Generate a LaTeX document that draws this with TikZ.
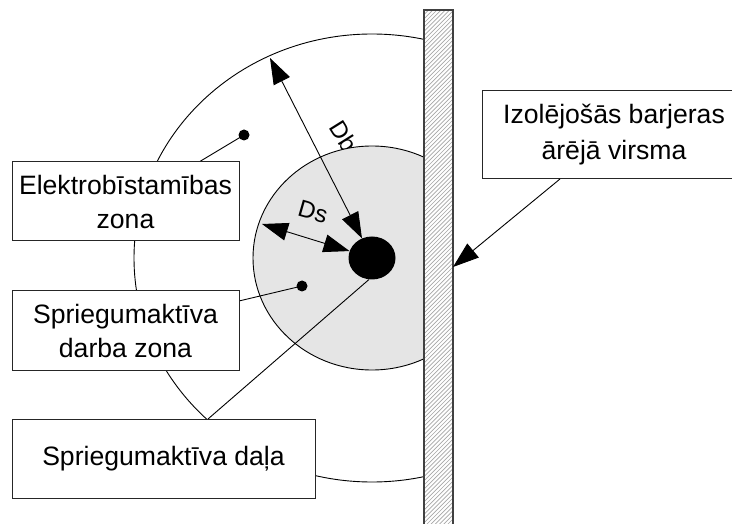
\documentclass[tikz,border=0pt]{standalone}
\usepackage{fontspec}
\setmainfont{Liberation Sans}
\usetikzlibrary{arrows.meta,shapes.geometric}
\begin{document}
\begin{tikzpicture}[x=1pt,y=-1pt,
  ln/.style={line width=0.9pt, draw=black},
  box/.style={draw=black!85, line width=1pt, fill=white, align=center,
    font=\fontsize{26.6}{34}\selectfont, inner sep=0pt},
  lbl/.style={font=\fontsize{24}{28}\selectfont, inner sep=0pt},
  tip/.style={Triangle[length=26pt,width=18pt]},
  dim/.style={ln, {Triangle[length=26pt,width=18pt]}-{Triangle[length=26pt,width=18pt]}},
  smalldot/.style={circle, fill=black, draw=none, minimum size=11pt, inner sep=0pt},
  bigdot/.style={ellipse, fill=black, draw=none, minimum width=47pt, minimum height=43pt, inner sep=0pt}
]
\useasboundingbox (0,0) rectangle (732,524);
% danger zone (big ellipse)
\begin{scope}
  \clip (0,0) rectangle (424,524);
  \draw[ln] (372,258) ellipse [x radius=238pt, y radius=224pt];
\end{scope}
% Db label (partly hidden by the live working zone)
\node[lbl, rotate=-58] (dblbl) at (344,136) {Db};
% live working zone
\begin{scope}
  \clip (0,0) rectangle (424,524);
  \draw[ln, fill=black!10] (372,258) ellipse [x radius=119pt, y radius=112pt];
\end{scope}
\node[lbl, rotate=-16] (dslbl) at (313,212) {Ds};
% dots
\node[bigdot] (D) at (372,258) {};
\node[smalldot] (d1) at (244,135) {};
\node[smalldot] (d2) at (302,286) {};
% dimension arrows
\coordinate (dbtop) at (270,58);
\coordinate (dsl) at (262,224);
\draw[dim] (dbtop) -- (D);
\draw[dim] (dsl) -- (D);
% leader lines
\coordinate (b1t) at (199,162);
\coordinate (b2r) at (239,301);
\coordinate (b3t) at (208,419);
\draw[ln] (d1.center) -- (b1t);
\draw[ln] (d2.center) -- (b2r);
\draw[ln] (D.262) -- (b3t);
% boxes
\node[box, minimum width=227pt, minimum height=79pt] (b1) at (125.5,201.5) {Elektrobīstamības\\zona};
\node[box, minimum width=227pt, minimum height=79pt] (b2) at (125.5,330.5) {Spriegumaktīva\\darba zona};
\node[box, minimum width=303pt, minimum height=79pt] (b3) at (163.5,458.5) {Spriegumaktīva daļa};
\node[box, minimum width=264pt, minimum height=88pt, font=\fontsize{26.6}{36}\selectfont] (b4) at (614,135) {Izolējošās barjeras\\ārējā virsma};
% barrier
\fill[white] (424,10) rectangle (453,530);
\begin{scope}
  \clip (424,10) rectangle (453,530);
  \foreach \i in {-40,-35.8,...,560} {
    \draw[gray!70, line width=0.7pt] (424,\i) -- (453,\i-29);
  }
\end{scope}
\draw[line width=1.3pt, draw=black!75] (424,530) -- (424,10) -- (453,10) -- (453,530);
% barrier arrow
\coordinate (a4) at (560,179);
\coordinate (bar) at (453,267);
\draw[ln, -{Triangle[length=26pt,width=18pt]}] (a4) -- (bar);
\end{tikzpicture}
\end{document}
